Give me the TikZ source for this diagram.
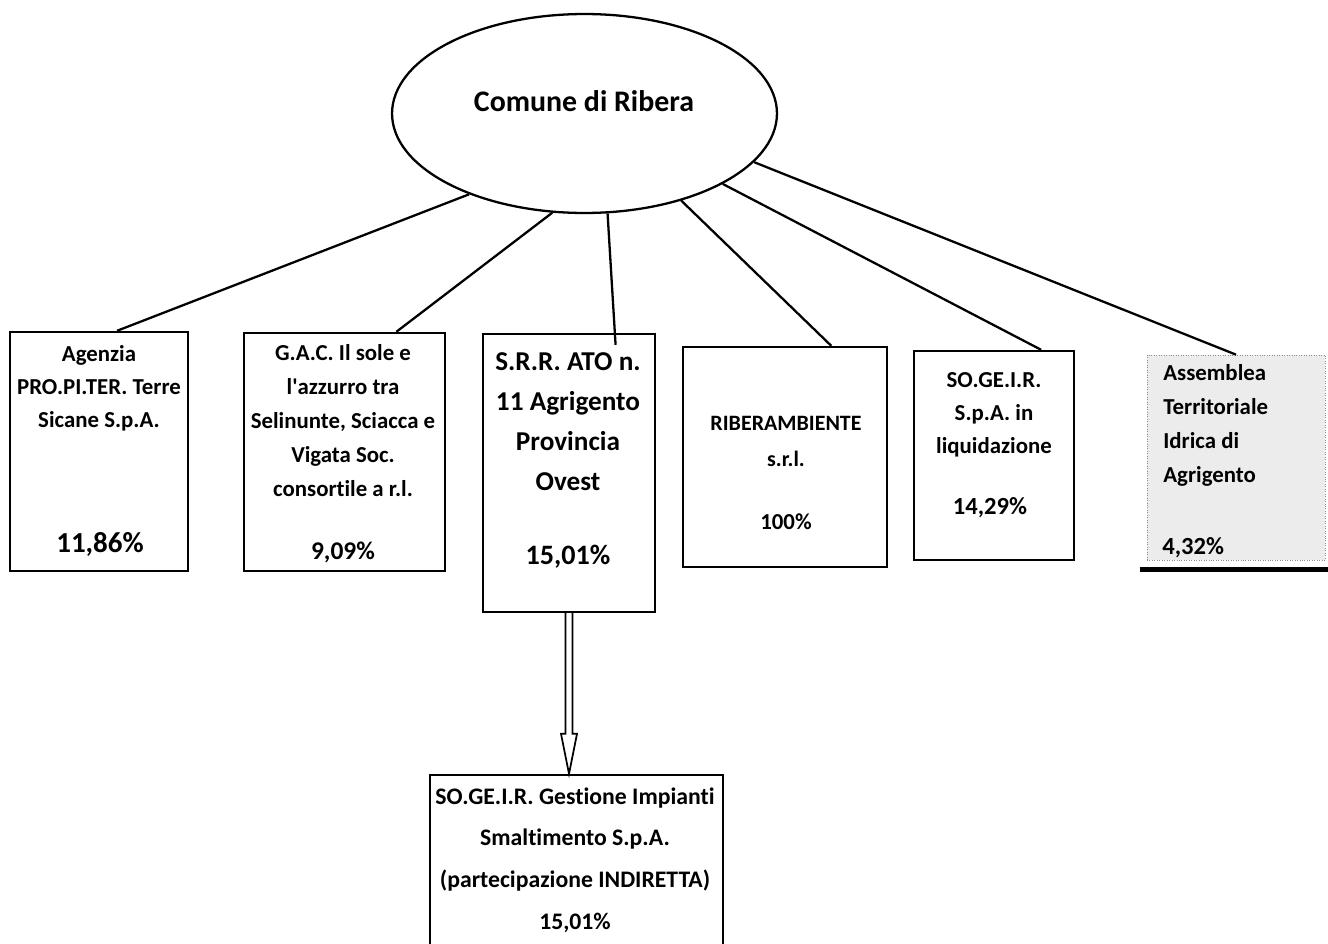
\documentclass[tikz,border=0pt]{standalone}
\usepackage{fontspec}
\setmainfont{Carlito}[Ligatures={TeX,NoCommon}]
\usepackage{xcolor}
\usetikzlibrary{shapes.geometric,calc}
\definecolor{ATIfill}{HTML}{ECECEC}
\definecolor{ATIline}{HTML}{8C8C8C}
\tikzset{
  box/.style={draw, line width=1.4pt, inner sep=0pt},
  link/.style={line width=1.3pt},
  ttl/.style={font=\bfseries\fontsize{13}{18.8}\selectfont, align=center, anchor=north, inner sep=0pt},
  pct/.style={font=\bfseries\fontsize{16}{19}\selectfont, anchor=north, inner sep=0pt}
}

\begin{document}
\begin{tikzpicture}[x=0.02cm, y=-0.02cm]%
\useasboundingbox (0,0) rectangle (1328,943);%
% ente
\node[ellipse, draw, line width=1.3pt, minimum width=7.7cm, minimum height=3.98cm, inner sep=0pt] (ribera) at (584.5,113.5) {};%
\node[font=\bfseries\fontsize{17}{20}\selectfont] (ribera-t) at (584,101) {Comune di Ribera};%
% partecipate
\node[box, minimum width=3.56cm, minimum height=4.78cm] (propiter) at (99,451.5) {};%
\node[ttl] (propiter-t) at (99,345) {Agenzia\\PRO.PI.TER. Terre\\Sicane S.p.A.};%
\node[pct, font=\bfseries\fontsize{16.5}{19}\selectfont] (propiter-p) at (100,532) {11,86\%};%
\node[box, minimum width=4.02cm, minimum height=4.76cm] (gac) at (344.5,452) {};%
\node[ttl, font=\bfseries\fontsize{13}{19.3}\selectfont] (gac-t) at (343,344) {G.A.C. Il sole e\\l\textquotesingle azzurro tra\\Selinunte, Sciacca e\\Vigata Soc.\\consortile a r.l.};%
\node[pct, font=\bfseries\fontsize{14.5}{17}\selectfont] (gac-p) at (343,542) {9,09\%};%
\node[box, minimum width=3.44cm, minimum height=5.56cm] (srr) at (569,473) {};%
\node[ttl, font=\bfseries\fontsize{15.5}{22.8}\selectfont] (srr-t) at (568,352) {S.R.R. ATO n.\\11 Agrigento\\Provincia\\Ovest};%
\node[pct] (srr-p) at (568,545) {15,01\%};%
\node[box, minimum width=4.08cm, minimum height=4.4cm] (riberambiente) at (785,457) {};%
\node[ttl, font=\bfseries\fontsize{12.5}{20.5}\selectfont] (riberambiente-t) at (786,416) {RIBERAMBIENTE\\s.r.l.};%
\node[pct, font=\bfseries\fontsize{13}{16}\selectfont] (riberambiente-p) at (786,513) {100\%};%
\node[box, minimum width=3.2cm, minimum height=4.18cm] (sogeirliq) at (994,455.5) {};%
\node[ttl] (sogeirliq-t) at (994,372) {SO.GE.I.R.\\S.p.A. in\\liquidazione};%
\node[pct, font=\bfseries\fontsize{14}{17}\selectfont] (sogeirliq-p) at (990,497) {14,29\%};%
\node[draw=ATIline, densely dotted, fill=ATIfill, minimum width=3.56cm, minimum height=4.1cm, inner sep=0pt] (ati) at (1236,457.5) {};%
\draw[line width=2.6pt] ($(ati.south west)+(-7,9)$) -- ($(ati.south east)+(3,9)$);%
\node[ttl, font=\bfseries\fontsize{13}{19.3}\selectfont, align=left, anchor=north west] (ati-t) at (1163,364) {Assemblea\\Territoriale\\Idrica di\\Agrigento};%
\node[pct, font=\bfseries\fontsize{14}{17}\selectfont, anchor=north west] (ati-p) at (1162,537) {4,32\%};%
% partecipazione indiretta
\node[box, minimum width=5.86cm, minimum height=3.7cm] (sogeirgest) at (576.5,867.5) {};%
\node[ttl, font=\bfseries\fontsize{13.5}{23.9}\selectfont] (sogeirgest-t) at (575,787) {SO.GE.I.R. Gestione Impianti\\Smaltimento S.p.A.\\(partecipazione INDIRETTA)\\15,01\%};%
% collegamenti
\draw[link] (ribera.215) -- ($(propiter.north west)!0.6!(propiter.north east)$);%
\draw[link] (ribera.252) -- ($(gac.north west)!0.755!(gac.north east)$);%
\draw[link] (ribera.283) -- ($(srr.north west)!0.767!(srr.north east)+(0,12)$);%
\draw[link] (ribera.318.6) -- ($(riberambiente.north west)!0.724!(riberambiente.north east)$);%
\draw[link] (ribera.333.7) -- ($(sogeirliq.north west)!0.79!(sogeirliq.north east)$);%
\draw[link] (ribera.344.6) -- ($(ati.north west)!0.5!(ati.north east)$);%
\draw[line width=1pt, line join=miter] ($(srr.south)+(-3.5,0)$) -- ($(srr.south |- sogeirgest.north)+(-3.5,-40)$) -- ++(-4.5,0) -- (srr.south |- sogeirgest.north) -- ++(8,-40) -- ++(-4.5,0) -- ($(srr.south)+(3.5,0)$);%
\end{tikzpicture}
\end{document}
